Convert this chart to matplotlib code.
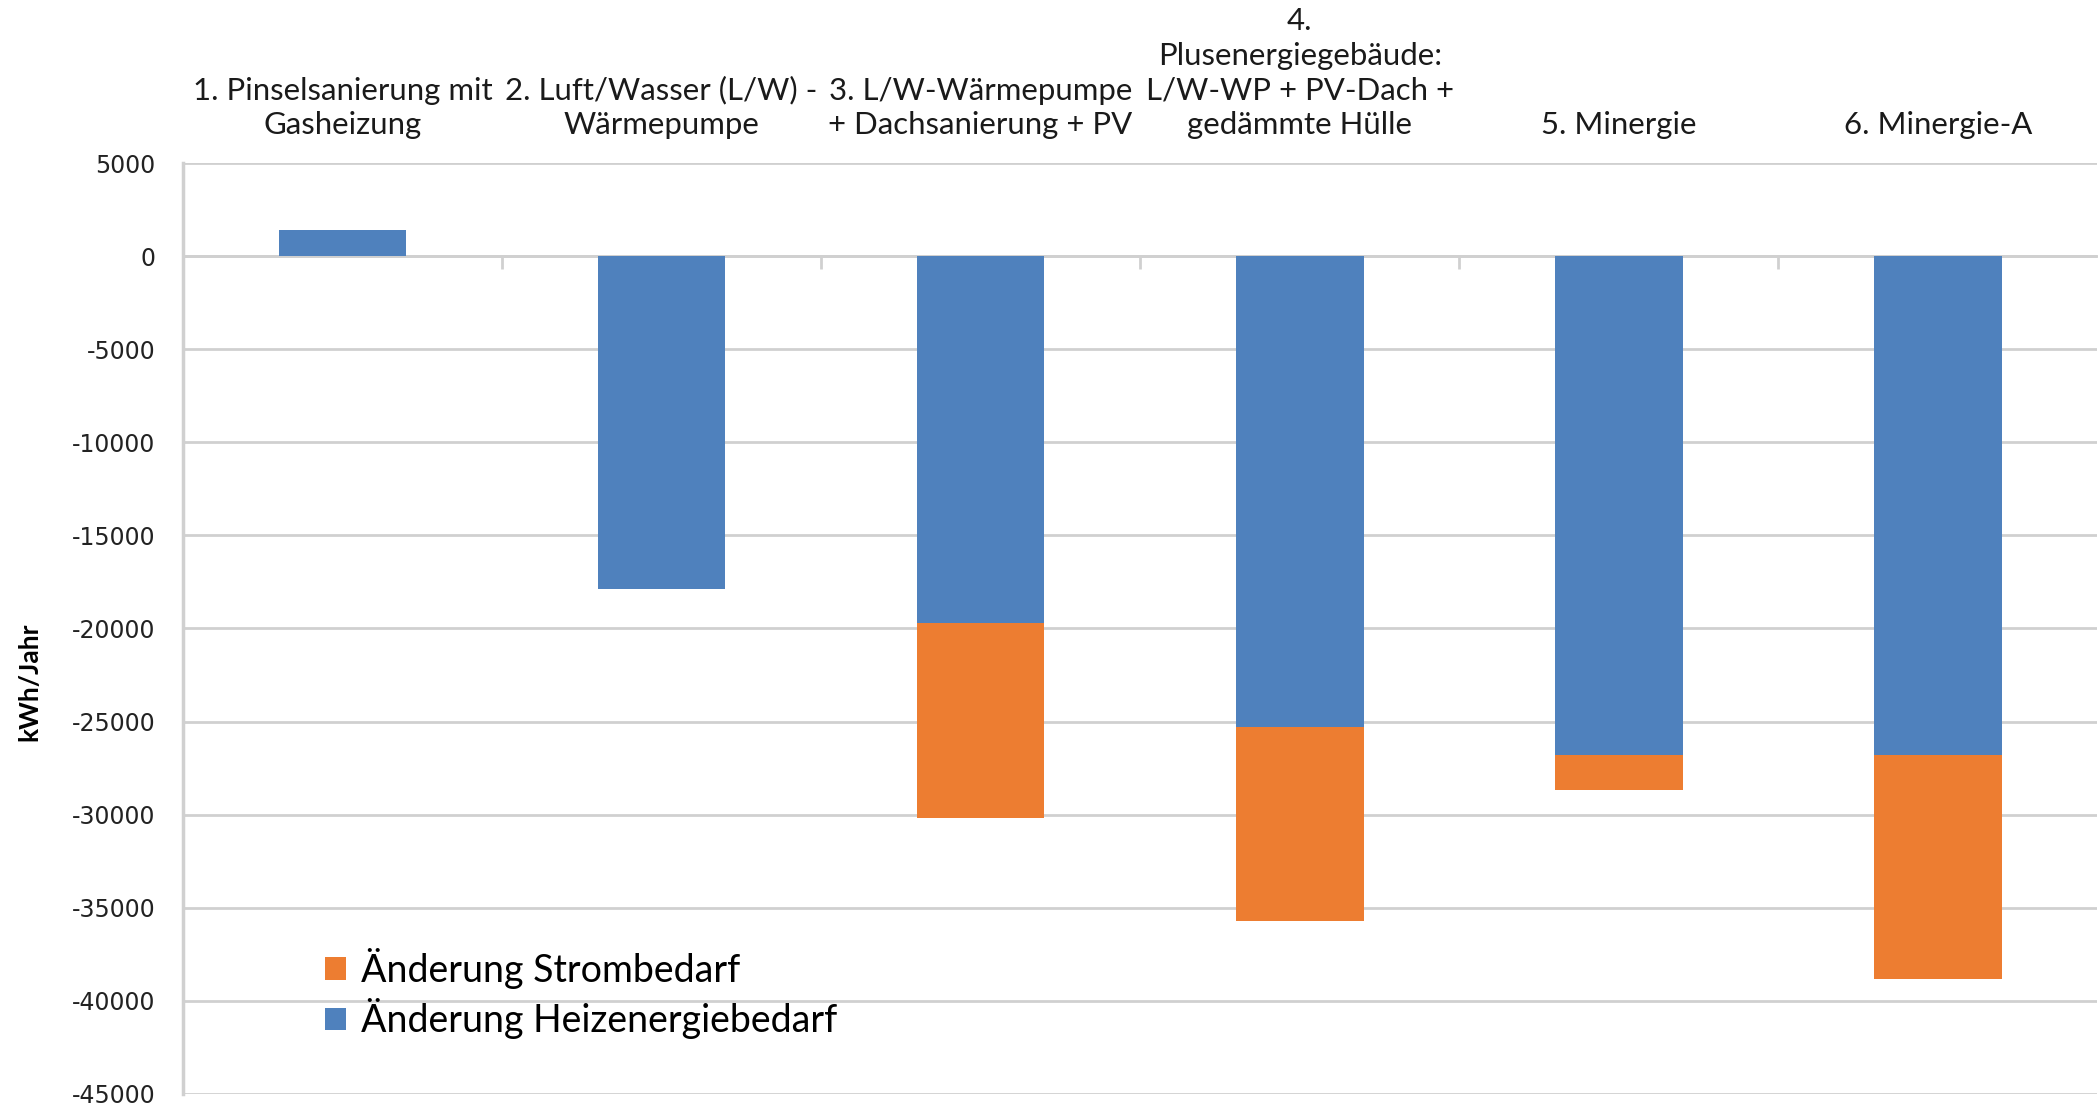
import matplotlib
matplotlib.use("Agg")
import matplotlib.pyplot as plt
import numpy as np

plt.rcParams['axes.unicode_minus'] = False

# Szenarien und Änderungen in kWh/Jahr
szenarien = ['1. Pinselsanierung mit\nGasheizung',
             '2. Luft/Wasser (L/W) -\nWärmepumpe',
             '3. L/W-Wärmepumpe\n+ Dachsanierung + PV',
             '4.\nPlusenergiegebäude:\nL/W-WP + PV-Dach +\ngedämmte Hülle',
             '5. Minergie',
             '6. Minergie-A']
heizenergie = [1400, -17900, -19700, -25300, -26800, -26800]
strom = [0, 0, -10500, -10400, -1850, -12000]
yticks = list(range(-45000, 5001, 5000))

blau = '#4f81bd'
orange = '#ed7d31'
grau = '#d0d0d0'

fig = plt.figure(figsize=(20.98, 11.06), dpi=100)
ax = fig.add_axes([0.0872, 0.0109, 0.9125, 0.8417])

x = np.arange(len(szenarien))
b_heiz = ax.bar(x, heizenergie, width=0.4, color=blau, label='Änderung Heizenergiebedarf', zorder=3)
b_strom = ax.bar(x, strom, width=0.4, bottom=heizenergie, color=orange,
                 label='Änderung Strombedarf', zorder=3)

ax.set_xlim(-0.5, len(szenarien) - 0.5)
ax.set_ylim(-45000, 5000)
ax.set_yticks(yticks)
ax.set_yticklabels([str(v) for v in yticks], fontsize=17, color='#222222', family='DejaVu Sans')
ax.tick_params(axis='y', length=0, pad=20)
ax.grid(axis='y', color=grau, linewidth=2, zorder=0)

# Nulllinie mit Kategorie-Trennstrichen
ax.spines['bottom'].set_position(('data', 0))
ax.spines['bottom'].set_color(grau)
ax.spines['bottom'].set_linewidth(2)
ax.set_xticks(x[:-1] + 0.5)
ax.set_xticklabels([])
ax.tick_params(axis='x', direction='out', length=9, width=2, color=grau)
for s in ['top', 'right']:
    ax.spines[s].set_visible(False)
ax.spines['left'].set_color(grau)
ax.spines['left'].set_linewidth(2.5)

# Kategoriebeschriftungen oben
for i, name in enumerate(szenarien):
    ax.annotate(name, xy=(i, 1), xycoords=('data', 'axes fraction'),
                xytext=(0, 17), textcoords='offset points',
                ha='center', va='bottom', fontsize=22.4, family='Lato',
                linespacing=1.3, color='#1a1a1a')

ax.set_ylabel('kWh/Jahr', fontsize=19, fontweight='bold', family='Lato')
ax.yaxis.set_label_coords(-0.074, 0.443)

ax.legend(handles=[b_strom, b_heiz], loc='center left', bbox_to_anchor=(0.0742, 0.108),
          frameon=False, prop={'family': 'Lato', 'size': 27},
          borderaxespad=0, borderpad=0,
          handlelength=0.55, handleheight=0.55, handletextpad=0.4, labelspacing=0.25)

fig.savefig('out.png', dpi=100)
